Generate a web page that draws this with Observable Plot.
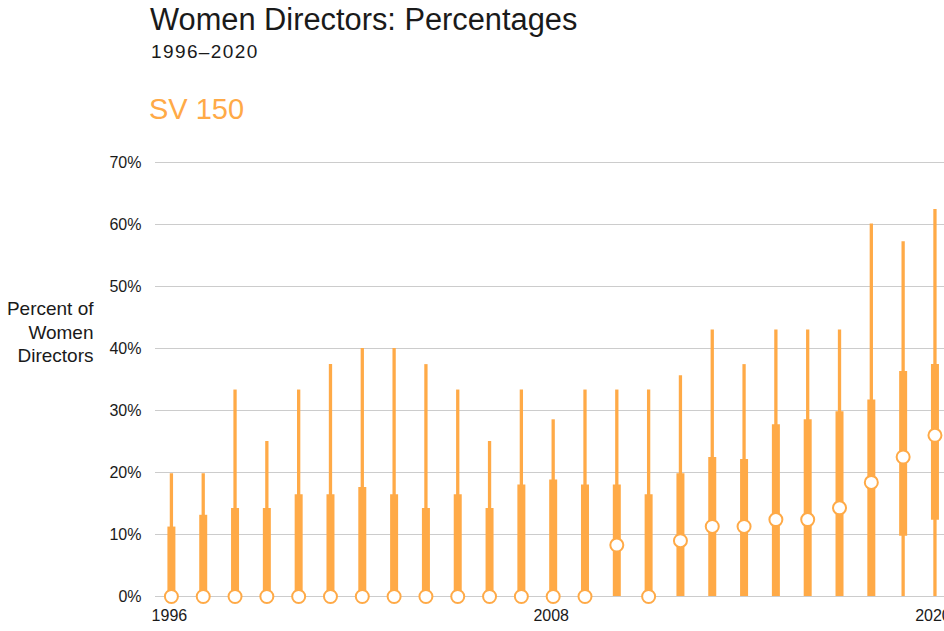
<!DOCTYPE html>
<html>
<head>
<meta charset="utf-8">
<script src="https://cdn.jsdelivr.net/npm/d3@7"></script>
<script src="https://cdn.jsdelivr.net/npm/@observablehq/plot@0.6"></script>
<style>
  html, body { margin: 0; padding: 0; background: #fff; overflow: hidden; }
  body { width: 944px; height: 631px; position: relative; font-family: "Liberation Sans", Arial, sans-serif; }
  .t { position: absolute; white-space: nowrap; line-height: 1; }
  #title { left: 150px; top: 5px; font-size: 30.8px; color: #1a1a1a; }
  #subtitle { left: 151px; top: 42px; font-size: 19px; color: #1a1a1a; letter-spacing: 1.4px; }
  #series { left: 149px; top: 95px; font-size: 29px; color: #FFAA47; }
  #chart { position: absolute; left: 0; top: 0; }
</style>
</head>
<body>
<div id="chart"></div>
<div class="t" id="title">Women Directors: Percentages</div>
<div class="t" id="subtitle">1996–2020</div>
<div class="t" id="series">SV 150</div>
<script>
const years = [1996,1997,1998,1999,2000,2001,2002,2003,2004,2005,2006,2007,2008,2009,2010,2011,2012,2013,2014,2015,2016,2017,2018,2019,2020];
const minVals = [0,0,0,0,0,0,0,0,0,0,0,0,0,0,0,0,0,0,0,0,0,0,0,0,0];
const q1Vals  = [0,0,0,0,0,0,0,0,0,0,0,0,0,0,0,0,0,0,0,0,0,0,0,9.7,12.3];
const medVals = [0,0,0,0,0,0,0,0,0,0,0,0,0,0,8.3,0,9.0,11.3,11.3,12.4,12.4,14.3,18.4,22.5,26.0];
const q3Vals  = [11.2,13.1,14.2,14.2,16.4,16.4,17.6,16.4,14.2,16.4,14.2,18.0,18.8,18.0,18.0,16.4,19.8,22.4,22.1,27.7,28.5,29.8,31.7,36.3,37.4];
const maxVals = [19.8,19.8,33.3,25.0,33.3,37.4,40.0,40.0,37.4,33.3,25.0,33.3,28.5,33.3,33.3,33.3,35.6,43.0,37.4,43.0,43.0,43.0,60.1,57.2,62.4];
const xTicks = [1996, 2008, 2020];
const yTicks = [0, 10, 20, 30, 40, 50, 60, 70];
const yLabel = "Percent of\nWomen\nDirectors";

const orange = "#FFAA47";
const data = years.map((year, i) => ({
  year, min: minVals[i], q1: q1Vals[i], median: medVals[i], q3: q3Vals[i], max: maxVals[i]
}));

const chart = Plot.plot({
  width: 944,
  height: 631,
  marginTop: 162,
  marginBottom: 35,
  marginLeft: 155,
  marginRight: 0,
  style: { fontFamily: "Liberation Sans, Arial, sans-serif", fontSize: "16px", color: "#1a1a1a", background: "transparent", overflow: "visible" },
  x: { domain: [1995.5, 2020.3], axis: null },
  y: { domain: [0, 70], axis: null },
  marks: [
    Plot.gridY(yTicks, { stroke: "#cccccc", strokeOpacity: 1, strokeWidth: 1 }),
    Plot.axisY(yTicks, { tickSize: 0, tickPadding: 14, tickFormat: d => d + "%", fontSize: 16, fill: "#1a1a1a", label: null }),
    Plot.axisX(xTicks, { tickSize: 0, tickPadding: 13, tickFormat: d => String(d), fontSize: 16, fill: "#1a1a1a", label: null, dx: -2 }),
    Plot.text([yLabel], { frameAnchor: "left", dx: -62, dy: -81, text: d => d, textAnchor: "end", lineAnchor: "top", lineHeight: 1.24, fontSize: 19, fill: "#1a1a1a" }),
    Plot.ruleX(data, { x: "year", y1: "min", y2: "max", stroke: orange, strokeWidth: 3.3 }),
    Plot.ruleX(data, { x: "year", y1: "q1", y2: "q3", stroke: orange, strokeWidth: 8 }),
    Plot.dot(data, { x: "year", y: "median", r: 6.5, fill: "white", stroke: orange, strokeWidth: 2 })
  ]
});
document.getElementById("chart").appendChild(chart);
</script>
</body>
</html>
